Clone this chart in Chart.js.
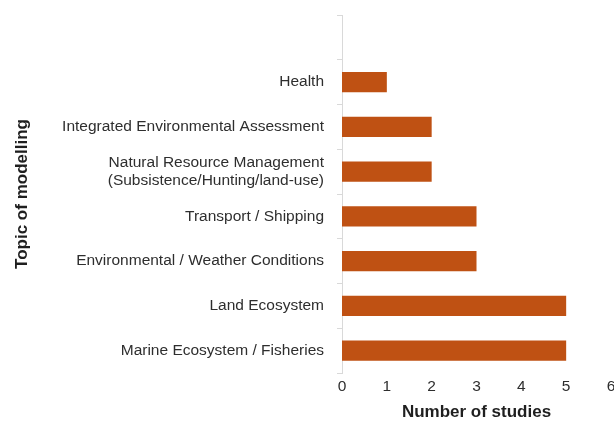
<!DOCTYPE html>
<html lang="en">
<head>
    <meta charset="UTF-8">
    <title>Topic of modelling</title>
    <script src="https://cdn.jsdelivr.net/npm/chart.js"></script>
    <style>
     html, body {
         margin: 0;
         padding: 0;
         background: #ffffff;
         overflow: hidden;
     }
     .chart-box {
         width: 614px;
         height: 427px;
         overflow: hidden;
     }
    </style>
</head>
<body>
    <div class="chart-box">
        <canvas id="chart-topics" width="630" height="427"></canvas>
    </div>

<script>
    // topics, top to bottom (first slot is left empty above "Health")
    const topics = [
        '',
        'Health',
        'Integrated Environmental Assessment',
        ['Natural Resource Management', '(Subsistence/Hunting/land-use)'],
        'Transport / Shipping',
        'Environmental / Weather Conditions',
        'Land Ecosystem',
        'Marine Ecosystem / Fisheries'
    ];
    const studyCounts = [null, 1, 2, 2, 3, 3, 5, 5];
    const xTicks = [0, 1, 2, 3, 4, 5, 6];

    const fontFamily = '"Liberation Sans", Arial, Helvetica, sans-serif';

    const ctx = document.getElementById('chart-topics').getContext('2d');
    new Chart(ctx, {
        type: 'bar',
        data: {
            labels: topics,
            datasets: [{
                label: 'Number of studies',
                data: studyCounts,
                backgroundColor: '#bf5113',
                borderWidth: 0,
                barPercentage: 0.45,
                categoryPercentage: 1
            }]
        },
        options: {
            indexAxis: 'y',
            responsive: false,
            animation: false,
            layout: {
                padding: { left: 0, top: 15, right: 19, bottom: 0 }
            },
            plugins: {
                legend: { display: false },
                tooltip: { enabled: false }
            },
            scales: {
                x: {
                    min: xTicks[0],
                    max: xTicks[xTicks.length - 1],
                    afterBuildTicks: function (scale) {
                        scale.ticks = xTicks.map(v => ({ value: v }));
                    },
                    grid: { display: false, drawTicks: false },
                    border: { display: false },
                    ticks: {
                        padding: 4,
                        color: '#2e2e2e',
                        font: { family: fontFamily, size: 15.5 }
                    },
                    title: {
                        display: true,
                        text: 'Number of studies',
                        color: '#1f1f1f',
                        font: { family: fontFamily, size: 17, weight: 'bold' },
                        padding: { top: 3, bottom: 4 }
                    }
                },
                y: {
                    offset: true,
                    afterFit: function (scale) {
                        // fixed gutter for the labels; no extra top/bottom room from tick padding
                        scale.width = 342;
                        scale.paddingTop = 0;
                        scale.paddingBottom = 0;
                    },
                    grid: {
                        display: true,
                        offset: true,
                        drawOnChartArea: false,
                        drawTicks: true,
                        tickLength: 5,
                        color: '#d9d9d9'
                    },
                    border: { display: true, color: '#d9d9d9' },
                    ticks: {
                        padding: 13,
                        color: '#2e2e2e',
                        font: { family: fontFamily, size: 15.5 }
                    },
                    title: {
                        display: true,
                        text: 'Topic of modelling',
                        color: '#1f1f1f',
                        font: { family: fontFamily, size: 17, weight: 'bold' },
                        padding: { top: 12, bottom: 4 }
                    }
                }
            }
        }
    });
</script>
</body>
</html>
